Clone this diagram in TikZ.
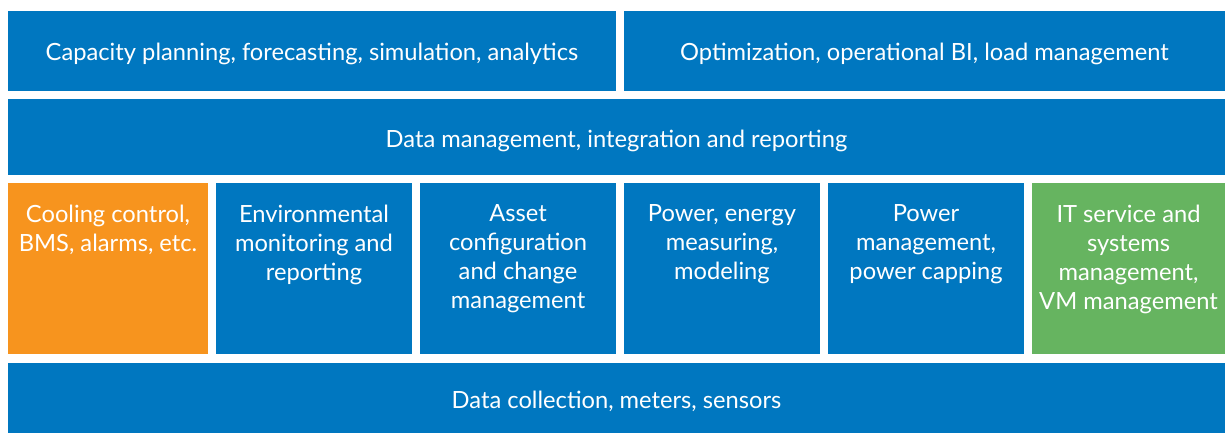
\documentclass[tikz,border=0pt]{standalone}
\usepackage{fontspec}
\setmainfont{Lato}
\usetikzlibrary{positioning}

\definecolor{dcblue}{RGB}{0,119,192}
\definecolor{dcorange}{RGB}{247,148,30}
\definecolor{dcgreen}{RGB}{102,180,96}

\begin{document}
\begin{tikzpicture}[x=1pt,y=-1pt]
\useasboundingbox (0,0) rectangle (1225,433);
\begin{scope}[every node/.style={rectangle,fill=dcblue,text=white,inner sep=0pt,
        font=\fontsize{23.7}{29}\selectfont,align=center,text height=2em,text depth=0pt}]
    % top row
    \node (cap) at (312, 50.85) [minimum width=608, minimum height=79.7] {Capacity planning, forecasting, simulation, analytics};
    \node (opt) at (924.5, 50.85) [minimum width=601, minimum height=79.7] {Optimization, operational BI, load management};

    \node (data) at (616.5, 137) [minimum width=1217, minimum height=76] {Data management, integration and reporting};

    % middle row
    \node (cool) at (108, 268.65) [minimum width=200, minimum height=171.3, fill=dcorange] {};
    \node (env) at (314, 268.65) [minimum width=196, minimum height=171.3] {};
    \node (asset) at (518, 268.65) [minimum width=196, minimum height=171.3] {};
    \node (pwr) at (722, 268.65) [minimum width=196, minimum height=171.3] {};
    \node (cap2) at (926, 268.65) [minimum width=196, minimum height=171.3] {};
    \node (its) at (1128.5, 268.65) [minimum width=193, minimum height=171.3, fill=dcgreen] {};

    \node (data2) at (616.5, 398.2) [minimum width=1217, minimum height=70.3] {Data collection, meters, sensors};
\end{scope}

\begin{scope}[every node/.style={text=white,inner sep=0pt,anchor=north,
        font=\fontsize{23.7}{29}\selectfont,align=center}]
    \node (cool-t) [below=22pt of cool.north] {Cooling control,\\BMS, alarms, etc.};
    \node (env-t) [below=22pt of env.north] {Environmental\\monitoring and\\reporting};
    \node (asset-t) [below=22pt of asset.north] {Asset\\configuration\\and change\\management};
    \node (pwr-t) [below=22pt of pwr.north] {Power, energy\\measuring,\\modeling};
    \node (cap2-t) [below=22pt of cap2.north] {Power\\management,\\power capping};
    \node (its-t) [below=22pt of its.north] {IT service and\\systems\\management,\\VM management};
\end{scope}
\end{tikzpicture}
\end{document}
